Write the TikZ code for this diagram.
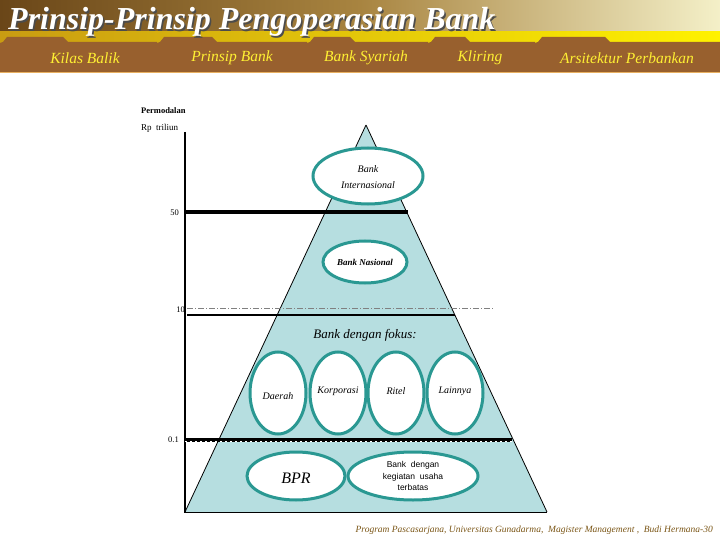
\documentclass[tikz,border=0pt]{standalone}
\usepackage{fontspec}
\setmainfont{Liberation Serif}
\newfontfamily\sansf{Liberation Sans}
\usetikzlibrary{shapes.geometric}
\definecolor{tealb}{HTML}{2A9892}
\definecolor{pyrfill}{HTML}{B6DEE0}
\definecolor{tabbrown}{HTML}{98602E}
\definecolor{tabtext}{HTML}{FFF033}
\definecolor{footc}{HTML}{7A5515}
\definecolor{hdrdark}{HTML}{6A4618}
\definecolor{hdrmid}{HTML}{A88440}
\definecolor{hdrlight}{HTML}{F4F0C8}
\definecolor{bandl}{HTML}{C99C12}
\definecolor{bandr}{HTML}{FFF200}
\definecolor{tabline}{HTML}{E8B060}
\tikzset{
  ell/.style={ellipse, draw=tealb, line width=3pt, fill=white, inner sep=0pt},
  elltxt/.style={font=\fontsize{10}{12}\selectfont\itshape, align=center, inner sep=0pt},
  tabtxt/.style={font=\fontsize{15.5}{17}\selectfont\itshape, text=tabtext, inner sep=0pt},
  axlab/.style={font=\fontsize{8.5}{10}\selectfont, inner sep=0pt},
}
\begin{document}
\begin{tikzpicture}[x=1pt,y=-1pt]
\useasboundingbox (0,0) rectangle (720,540);
% header background
\shade[left color=hdrdark, right color=hdrlight, middle color=hdrmid] (0,0) rectangle (720,33);
\shade[left color=bandl, right color=bandr] (0,32) rectangle (720,43);
% tabs
\foreach \xa/\xb/\xl in {0/157/68, 157/307/217, 307/428/355, 428/535/470, 535/720/610}{
  \fill[tabbrown] (\xa,43) -- (\xa+3,42) -- (\xa+7,37) -- (\xl-5,37) -- (\xl,42) -- (\xb,42) -- (\xb,72) -- (\xa,72) -- cycle;
  \draw[tabline, line width=0.8pt] (\xb,43) -- (\xb,72);
}
\draw[tabline, line width=1.5pt] (0,72.5) -- (720,72.5);
% title
\node[anchor=base west, inner sep=0pt, text=black!70, font=\fontsize{32}{34}\selectfont\bfseries\itshape] (titleshadow) at (9.5,31.5) {Prinsip-Prinsip Pengoperasian Bank};
\node[anchor=base west, inner sep=0pt, text=white, font=\fontsize{32}{34}\selectfont\bfseries\itshape] (title) at (8,30) {Prinsip-Prinsip Pengoperasian Bank};
% tab labels
\node[tabtxt] (t1) at (85,58) {Kilas Balik};
\node[tabtxt] (t2) at (232,58) {Prinsip Bank};
\node[tabtxt] (t3) at (366,58) {Bank Syariah};
\node[tabtxt] (t4) at (480,58) {Kliring};
\node[tabtxt] (t5) at (627,58) {Arsitektur Perbankan};
% pyramid
\coordinate (apex) at (366,125);
\coordinate (bl) at (185,512);
\coordinate (br) at (547,512);
\fill[pyrfill] (apex) -- (br) -- (bl) -- cycle;
\draw[line width=0.8pt] (apex) -- (br) (apex) -- (bl);
% axis
\coordinate (axtop) at (185,132);
\coordinate (axbot) at (185,513);
\draw[line width=1.2pt] (axtop) -- (axbot);
\draw[line width=0.6pt] (bl) -- (br);
\node[anchor=west, inner sep=0pt, font=\fontsize{8.5}{10}\selectfont\bfseries] (perm) at (141,111) {Permodalan};
\node[anchor=west, inner sep=0pt, font=\fontsize{9}{10}\selectfont] (rp) at (141,128) {Rp\ \ triliun};
% level lines
\coordinate (l50a) at (185,212); \coordinate (l50b) at (408,212);
\draw[line width=4pt] (l50a) -- (l50b);
\coordinate (dsa) at (187,308); \coordinate (dsb) at (493,308);
\draw[gray, line width=0.5pt, dash pattern=on 6pt off 2pt on 1pt off 2pt] (dsa) -- (dsb);
\coordinate (l10a) at (187,315); \coordinate (l10b) at (455,315);
\draw[line width=2pt] (l10a) -- (l10b);
\coordinate (l01a) at (185,440); \coordinate (l01b) at (512,440);
\draw[line width=3.5pt] (l01a) -- (l01b);
\draw[white, line width=0.6pt, dash pattern=on 2pt off 3pt] ([yshift=-1pt]l01a) -- ([yshift=-1pt]l01b);
\node[axlab, anchor=east] (a50) at (179,213) {50};
\node[axlab, anchor=east] (a10) at (185,310) {10};
\node[axlab, anchor=east] (a01) at (179,440) {0.1};
% ellipses
\node[ell, minimum width=110, minimum height=56] (bi) at (368,176) {};
\node[elltxt] at ([yshift=7]bi.center) {Bank};
\node[elltxt] at ([yshift=-9]bi.center) {Internasional};
\node[ell, minimum width=84, minimum height=42] (bn) at (365,262) {};
\node[elltxt, font=\fontsize{9}{11}\selectfont\bfseries\itshape] at (bn.center) {Bank Nasional};
\node[inner sep=0pt, font=\fontsize{13}{15}\selectfont\itshape] (fokus) at (365,335) {Bank dengan fokus:};
\node[ell, minimum width=56, minimum height=82] (dae) at (278,393) {};
\node[ell, minimum width=56, minimum height=82] (kor) at (338,393) {};
\node[ell, minimum width=56, minimum height=82] (rit) at (396,393) {};
\node[ell, minimum width=56, minimum height=82] (lai) at (455,393) {};
\node[elltxt] at ([yshift=-3]dae.center) {Daerah};
\node[elltxt] at ([yshift=2]kor.center) {Korporasi};
\node[elltxt] at ([yshift=2]rit.center) {Ritel};
\node[elltxt] at ([yshift=2]lai.center) {Lainnya};
\node[ell, minimum width=98, minimum height=48] (bpr) at (296,476) {};
\node[elltxt, font=\fontsize{16}{18}\selectfont\itshape] at ([yshift=-2]bpr.center) {BPR};
\node[ell, minimum width=130, minimum height=48] (bku) at (413,476) {};
\node[inner sep=0pt, align=center, font=\sansf\fontsize{8.5}{11.5}\selectfont] at (bku.center) {Bank\ \ dengan\\kegiatan\ \ usaha\\terbatas};
% footer
\node[anchor=base east, inner sep=0pt, text=footc, font=\fontsize{9.5}{11}\selectfont\itshape] (foot) at (713,532) {Program Pascasarjana, Universitas Gunadarma,\ \ Magister Management ,\ \ Budi Hermana-30};
\end{tikzpicture}
\end{document}
